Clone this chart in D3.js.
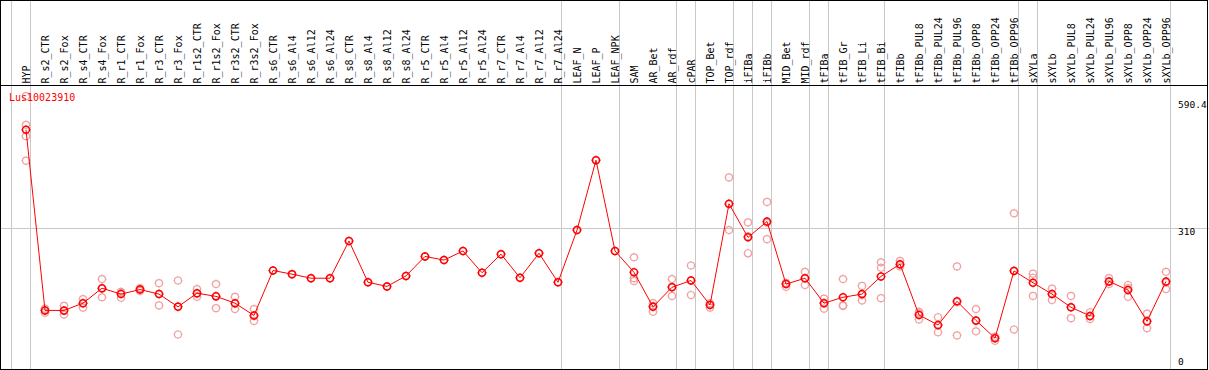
<!DOCTYPE html>
<html>
<head>
<meta charset="utf-8">
<script src="https://cdn.jsdelivr.net/npm/d3@7"></script>
<style>
  body { margin: 0; background: #fff; }
  svg { display: block; }
  text { font-family: "DejaVu Sans Mono", monospace; }
</style>
</head>
<body>
<div id="chart"></div>
<script>
// sample names, one column each
var samples = ["HYP", "R_s2_CTR", "R_s2_Fox", "R_s4_CTR", "R_s4_Fox", "R_r1_CTR", "R_r1_Fox",
  "R_r3_CTR", "R_r3_Fox", "R_r1s2_CTR", "R_r1s2_Fox", "R_r3s2_CTR", "R_r3s2_Fox",
  "R_s6_CTR", "R_s6_Al4", "R_s6_Al12", "R_s6_Al24", "R_s8_CTR", "R_s8_Al4", "R_s8_Al12", "R_s8_Al24",
  "R_r5_CTR", "R_r5_Al4", "R_r5_Al12", "R_r5_Al24", "R_r7_CTR", "R_r7_Al4", "R_r7_Al12", "R_r7_Al24",
  "LEAF_N", "LEAF_P", "LEAF_NPK", "SAM", "AR_Bet", "AR_rdf", "cPAR", "TOP_Bet", "TOP_rdf",
  "iFIBa", "iFIBb", "MID_Bet", "MID_rdf", "tFIBa", "tFIB_Gr", "tFIB_Li", "tFIB_Bi", "tFIBb",
  "tFIBb_PUL8", "tFIBb_PUL24", "tFIBb_PUL96", "tFIBb_OPP8", "tFIBb_OPP24", "tFIBb_OPP96",
  "sXYLa", "sXYLb", "sXYLb_PUL8", "sXYLb_PUL24", "sXYLb_PUL96", "sXYLb_OPP8", "sXYLb_OPP24", "sXYLb_OPP96"];

// mean expression per sample
var means = [527, 129, 129, 145, 178, 165, 175, 165, 137, 167, 160, 145, 118,
  217, 209, 200, 200, 282, 191, 182, 205, 248, 240, 260, 212, 253, 201, 255, 191,
  306, 460, 260, 213, 137, 180, 195, 141, 364, 290, 325, 187, 200, 145, 158, 165, 204, 231,
  119, 97, 149, 107, 68, 216, 190, 165, 136, 117, 193, 174, 105, 193];

// replicate values per sample
var replicates = [
  [601, 538, 513, 459], [133, 129, 124], [139, 128, 120], [154, 145, 135], [198, 177, 158],
  [170, 168, 157], [178, 176, 172], [189, 165, 140], [195, 138, 76], [176, 166, 159],
  [187, 160, 134], [159, 144, 132], [132, 117, 106],
  [217], [209], [200], [200], [282], [191], [182], [205], [248], [240], [260], [212],
  [253], [201], [255], [191], [306], [460], [260],
  [246, 200, 194], [145, 139, 126], [198, 181, 161], [228, 195, 163], [145, 143, 135],
  [422, 363, 306], [323, 292, 255], [368, 322, 286], [190, 188, 181], [214, 200, 185],
  [155, 146, 133], [198, 140, 139], [183, 163, 151], [235, 223, 156], [238, 230, 226],
  [126, 122, 109], [114, 96, 81], [226, 147, 74], [132, 106, 83], [71, 70, 62],
  [343, 217, 87], [210, 201, 161], [177, 165, 152], [161, 136, 112], [125, 116, 110],
  [200, 192, 187], [185, 178, 159], [122, 104, 90], [214, 190, 176]];

// columns where a new sample group starts (gray separators)
var groupStarts = [0, 1, 29, 32, 35, 36, 38, 39, 40, 42, 43, 46, 53, 54, 61];

var yTicks = [590.4, 310, 0];
var geneName = "Lus10023910";

var svgWidth = 1209;
var svgHeight = 370;
var headerBottom = 85.5;
var plotBottom = 369;

var svg = d3.select("#chart")
  .append("svg")
  .attr("width", svgWidth)
  .attr("height", svgHeight);

var xScale = d3.scaleLinear()
  .domain([0, samples.length])
  .range([11.5, 1170.5]);

var yScale = d3.scaleLinear()
  .domain([0, 590.4])
  .range([plotBottom, 101]);

function cx(i) { return xScale(i) + 14.5; }

// gridline at the middle tick
svg.append("line")
  .attr("x1", 0).attr("x2", svgWidth)
  .attr("y1", Math.round(yScale(310)) + 0.5)
  .attr("y2", Math.round(yScale(310)) + 0.5)
  .attr("stroke", "#c8c8c8");

// group separators
svg.selectAll(".sep")
  .data(groupStarts)
  .enter()
  .append("line")
  .attr("class", "sep")
  .attr("x1", d => Math.round(xScale(d)) - 0.5)
  .attr("x2", d => Math.round(xScale(d)) - 0.5)
  .attr("y1", 0)
  .attr("y2", svgHeight)
  .attr("stroke", "#c8c8c8");

// frame and header line
svg.append("rect")
  .attr("x", 0.5).attr("y", 0.5)
  .attr("width", 1207).attr("height", plotBottom)
  .attr("fill", "none")
  .attr("stroke", "#000");

svg.append("line")
  .attr("x1", 0).attr("x2", 1208)
  .attr("y1", headerBottom).attr("y2", headerBottom)
  .attr("stroke", "#000");

// rotated sample labels
svg.selectAll(".sample")
  .data(samples)
  .enter()
  .append("text")
  .attr("class", "sample")
  .attr("transform", (d, i) => `translate(${cx(i) + 3.5}, ${headerBottom - 2}) rotate(-90)`)
  .attr("font-size", "10px")
  .attr("fill", "#000")
  .text(d => d);

// y tick labels on the right
svg.selectAll(".ytick")
  .data(yTicks)
  .enter()
  .append("text")
  .attr("class", "ytick")
  .attr("x", 1178)
  .attr("y", d => Math.min(yScale(d) + 7, plotBottom - 4))
  .attr("font-size", "9.5px")
  .attr("fill", "#000")
  .text(d => d);

// circle marker with little ticks
function marker(r) {
  var t = r + 1;
  return `M${-r},0A${r},${r} 0 1,0 ${r},0A${r},${r} 0 1,0 ${-r},0` +
    `M0,${-r}V${-t}M0,${r}V${t}M${-r},0H${-t}M${r},0H${t}`;
}

// replicate points
var repPoints = [];
replicates.forEach(function(vals, i) {
  vals.forEach(function(v) { repPoints.push({ i: i, v: v }); });
});

svg.selectAll(".rep")
  .data(repPoints)
  .enter()
  .append("path")
  .attr("class", "rep")
  .attr("transform", d => `translate(${cx(d.i)}, ${yScale(d.v)})`)
  .attr("d", marker(3.5))
  .attr("fill", "none")
  .attr("stroke", "#f0a0a0")
  .attr("stroke-width", 1.2);

// mean line
var line = d3.line()
  .x((d, i) => cx(i))
  .y(d => yScale(d));

svg.append("path")
  .datum(means)
  .attr("d", line)
  .attr("fill", "none")
  .attr("stroke", "#ff0000")
  .attr("stroke-width", 1);

svg.selectAll(".mean")
  .data(means)
  .enter()
  .append("path")
  .attr("class", "mean")
  .attr("transform", (d, i) => `translate(${cx(i)}, ${yScale(d)})`)
  .attr("d", marker(3.5))
  .attr("fill", "none")
  .attr("stroke", "#ff0000")
  .attr("stroke-width", 1.5);

// gene title
svg.append("text")
  .attr("x", 9)
  .attr("y", 100.5)
  .attr("font-size", "10px")
  .attr("fill", "#ff0000")
  .text(geneName);
</script>
</body>
</html>
